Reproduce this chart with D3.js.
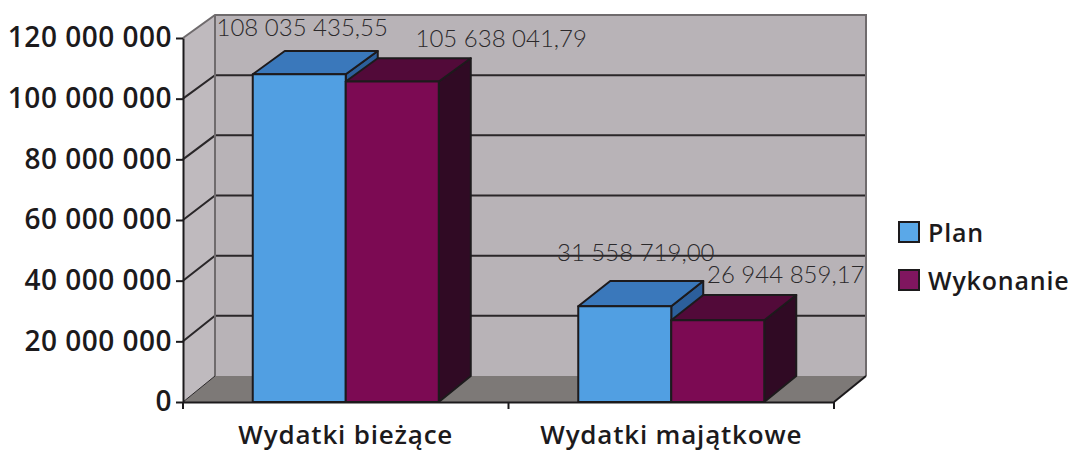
<!DOCTYPE html>
<html>
<head>
<meta charset="utf-8">
<script src="https://cdn.jsdelivr.net/npm/d3@7"></script>
<style>
  html, body { margin: 0; padding: 0; background: #fff; }
  svg { display: block; }
  .tick-label { font-family: "Open Sans"; font-weight: 600; fill: #1c1a1c; }
  .value-label { font-family: "Lato"; font-weight: 300; font-size: 24px; fill: #2b292b; }
</style>
</head>
<body>
<div id="chart"></div>
<script>
const categories = ['Wydatki bieżące', 'Wydatki majątkowe'];
const seriesNames = ['Plan', 'Wykonanie'];
const planValues = [108035435.55, 31558719.00];
const wykonanieValues = [105638041.79, 26944859.17];
const valueLabels = [
    ['108 035 435,55', '31 558 719,00'],
    ['105 638 041,79', '26 944 859,17']
];
const yTicks = [0, 20000000, 40000000, 60000000, 80000000, 100000000, 120000000];

const width = 1073;
const height = 452;

// front edge of the box and back wall have slightly different scales
const yFront = d3.scaleLinear().domain([0, 120000000]).range([402, 38]);
const yBack = d3.scaleLinear().domain([0, 120000000]).range([376, 15]);
const depth = 32;

const x0 = d3.scaleBand().domain(categories).range([183, 834]);
const x1 = d3.scaleBand().domain(seriesNames).range([0, x0.bandwidth()]).paddingOuter(0.75);

const colors = {
    Plan: { front: '#519fe2', top: '#3a78bb', side: '#2c5f9b', legend: '#5aa8e8' },
    Wykonanie: { front: '#7c0a53', top: '#520a39', side: '#300a24', legend: '#80165f' }
};

const fmt = (d) => d === 0 ? '0' : d3.format(',')(d).replace(/,/g, ' ');
const poly = d3.line();

const svg = d3.select('#chart').append('svg')
    .attr('width', width)
    .attr('height', height);

const xL = x0.range()[0];
const xR = x0.range()[1];

// walls and floor
svg.append('path')
    .attr('d', poly([[xL, yFront(0)], [xL, yFront(120000000)], [xL + depth, yBack(120000000)], [xL + depth, yBack(0)]]) + 'Z')
    .attr('fill', '#bfbabe');
svg.append('path')
    .attr('d', poly([[xL + depth, yBack(0)], [xL + depth, yBack(120000000)], [xR + depth, yBack(120000000)], [xR + depth, yBack(0)]]) + 'Z')
    .attr('fill', '#b8b3b7');
svg.append('path')
    .attr('d', poly([[xL, yFront(0)], [xL + depth, yBack(0)], [xR + depth, yBack(0)], [xR, yFront(0)]]) + 'Z')
    .attr('fill', '#7d7977');

// gridlines
svg.append('g').selectAll('path')
    .data(yTicks.filter(d => d > 0 && d < 120000000))
    .join('path')
    .attr('d', d => poly([[xL, yFront(d)], [xL + depth, yBack(d)], [xR + depth, yBack(d)]]))
    .attr('fill', 'none')
    .attr('stroke', '#2a2729')
    .attr('stroke-width', 2);

// wall edges
svg.append('path')
    .attr('d', poly([[xL, yFront(120000000)], [xL + depth, yBack(120000000)], [xR + depth, yBack(120000000)], [xR + depth, yBack(0)]]))
    .attr('fill', 'none')
    .attr('stroke', '#6f6b6d')
    .attr('stroke-width', 2);
svg.append('path')
    .attr('d', poly([[xL + depth, yBack(120000000)], [xL + depth, yBack(0)]]))
    .attr('stroke', '#6f6b6d')
    .attr('stroke-width', 2);
svg.append('path')
    .attr('d', poly([[xL, yFront(0)], [xL + depth, yBack(0)]]))
    .attr('stroke', '#2a2729')
    .attr('stroke-width', 1);
svg.append('path')
    .attr('d', poly([[xR, yFront(0)], [xR + depth, yBack(0)]]))
    .attr('stroke', '#1c1a1c')
    .attr('stroke-width', 2);

// bars, drawn series by series so the later one covers the earlier side face
const seriesData = [planValues, wykonanieValues];

seriesNames.forEach((name, s) => {
    categories.forEach((cat, c) => {
        const value = seriesData[s][c];
        const a = x0(cat) + x1(name);
        const b = a + x1.bandwidth();
        const g = svg.append('g').attr('class', 'bar');
        const faces = [
            { fill: colors[name].side, pts: [[b, yFront(0)], [b, yFront(value)], [b + depth, yBack(value)], [b + depth, yBack(0)]] },
            { fill: colors[name].top, pts: [[a, yFront(value)], [a + depth, yBack(value)], [b + depth, yBack(value)], [b, yFront(value)]] },
            { fill: colors[name].front, pts: [[a, yFront(0)], [a, yFront(value)], [b, yFront(value)], [b, yFront(0)]] }
        ];
        g.selectAll('path').data(faces).join('path')
            .attr('d', d => poly(d.pts) + 'Z')
            .attr('fill', d => d.fill)
            .attr('stroke', '#1d1a1c')
            .attr('stroke-width', 2)
            .attr('stroke-linejoin', 'round');
    });
});

// value labels sit where the original author dragged them, not over the bars
const labelNudge = [[[3, -15], [11, -20]], [[109, -11], [68, -12]]];
seriesNames.forEach((name, s) => {
    categories.forEach((cat, c) => {
        const value = seriesData[s][c];
        const cx = x0(cat) + x1(name) + x1.bandwidth() / 2;
        const n = labelNudge[s][c];
        svg.append('text')
            .attr('class', 'value-label')
            .attr('x', cx + n[0])
            .attr('y', yBack(value) + n[1])
            .attr('text-anchor', 'middle')
            .text(valueLabels[s][c]);
    });
});

// axes
const yAxis = svg.append('g')
    .attr('transform', `translate(${xL},0)`)
    .call(d3.axisLeft(yFront).tickValues(yTicks).tickFormat(fmt).tickSize(7).tickPadding(4).tickSizeOuter(0));
yAxis.select('.domain').attr('stroke', '#1c1a1c').attr('stroke-width', 2);
yAxis.selectAll('.tick line').attr('stroke', '#1c1a1c').attr('stroke-width', 2);
yAxis.selectAll('.tick text')
    .attr('class', 'tick-label')
    .style('font-size', '28px')
    .style('letter-spacing', '0.5px');

const xAxis = svg.append('g')
    .attr('transform', `translate(0,${yFront(0)})`)
    .call(d3.axisBottom(x0).tickSize(0).tickPadding(24));
xAxis.select('.domain').attr('stroke', '#1c1a1c').attr('stroke-width', 2);
xAxis.selectAll('.tick text')
    .attr('class', 'tick-label')
    .style('font-size', '26px')
    .style('letter-spacing', '0.8px');

xAxis.selectAll('line.sep')
    .data([xL, x0(categories[1]), xR])
    .join('line')
    .attr('class', 'sep')
    .attr('x1', d => d).attr('x2', d => d)
    .attr('y1', 0).attr('y2', 7)
    .attr('stroke', '#1c1a1c')
    .attr('stroke-width', 2);

// legend
const legend = d3.scaleBand().domain(seriesNames).range([209, 305]);
const legendItems = svg.append('g').selectAll('g')
    .data(seriesNames)
    .join('g')
    .attr('transform', d => `translate(899,${legend(d)})`);
legendItems.append('rect')
    .attr('y', 13)
    .attr('width', 20)
    .attr('height', 20)
    .attr('fill', d => colors[d].legend)
    .attr('stroke', '#1d1a1c')
    .attr('stroke-width', 2);
legendItems.append('text')
    .attr('class', 'tick-label')
    .attr('x', 29)
    .attr('y', 33)
    .style('font-size', '25px')
    .style('letter-spacing', '0.8px')
    .text(d => d);
</script>
</body>
</html>
